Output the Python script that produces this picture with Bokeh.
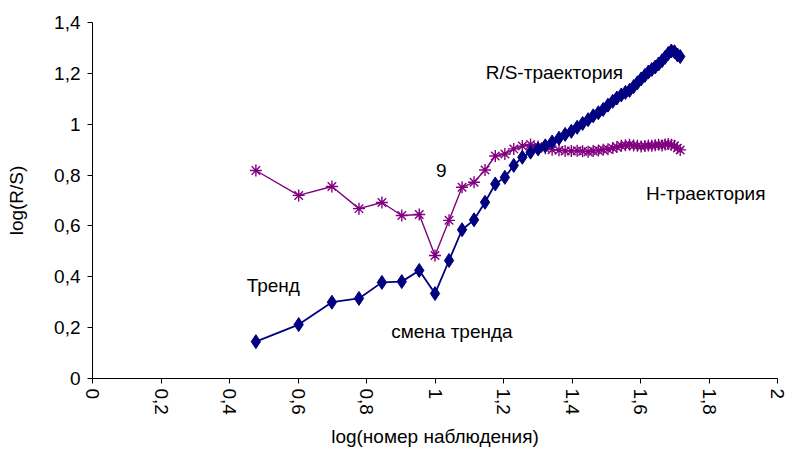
from bokeh.plotting import figure
from bokeh.models import FixedTicker, CustomJSTickFormatter, Range1d, ColumnDataSource
from bokeh.core.properties import value
from bokeh.embed import file_html
from bokeh.resources import INLINE

# log(observation number), n = 3 .. 52
log_n = [0.477, 0.602, 0.699, 0.778, 0.845, 0.903, 0.954, 1.000, 1.041, 1.079,
         1.114, 1.146, 1.176, 1.204, 1.230, 1.255, 1.279, 1.301, 1.322, 1.342,
         1.362, 1.380, 1.398, 1.415, 1.431, 1.447, 1.462, 1.477, 1.491, 1.505,
         1.519, 1.531, 1.544, 1.556, 1.568, 1.580, 1.591, 1.602, 1.613, 1.623,
         1.633, 1.643, 1.653, 1.663, 1.672, 1.681, 1.690, 1.699, 1.708, 1.716]

# R/S trajectory: log(R/S)
log_rs = [0.145, 0.212, 0.300, 0.315, 0.378, 0.381, 0.425, 0.334, 0.464, 0.585,
          0.624, 0.693, 0.765, 0.791, 0.838, 0.870, 0.890, 0.903, 0.915, 0.930,
          0.945, 0.960, 0.972, 0.988, 1.003, 1.018, 1.033, 1.045, 1.058, 1.075,
          1.090, 1.103, 1.115, 1.125, 1.133, 1.148, 1.163, 1.178, 1.192, 1.205,
          1.215, 1.225, 1.237, 1.250, 1.263, 1.278, 1.288, 1.285, 1.272, 1.266]

# H trajectory
h_traj = [0.818, 0.720, 0.755, 0.668, 0.692, 0.641, 0.645, 0.484, 0.622, 0.752,
          0.772, 0.820, 0.875, 0.883, 0.903, 0.914, 0.920, 0.912, 0.905, 0.900,
          0.898, 0.895, 0.895, 0.896, 0.894, 0.892, 0.895, 0.897, 0.900, 0.902,
          0.906, 0.910, 0.915, 0.917, 0.919, 0.916, 0.915, 0.912, 0.914, 0.916,
          0.915, 0.917, 0.919, 0.916, 0.920, 0.922, 0.919, 0.915, 0.906, 0.899]

x_ticks = [0, 0.2, 0.4, 0.6, 0.8, 1.0, 1.2, 1.4, 1.6, 1.8, 2.0]
y_ticks = [0, 0.2, 0.4, 0.6, 0.8, 1.0, 1.2, 1.4]

labels_text = ["Тренд", "смена тренда", "9", "R/S-траектория", "Н-траектория"]
labels_x = [0.45, 0.872, 1.003, 1.148, 1.616]
labels_y = [0.366, 0.185, 0.818, 1.203, 0.727]

FONT = "Liberation Sans"
RS_COLOR = "#000080"
H_COLOR = "#800080"

p = figure(width=787, height=452, output_backend="svg", toolbar_location=None,
           x_range=Range1d(0, 2), y_range=Range1d(0, 1.4),
           min_border_left=92, min_border_right=10, min_border_top=22, min_border_bottom=74)
p.outline_line_color = None
p.xgrid.visible = False
p.ygrid.visible = False
p.background_fill_color = "white"

src = ColumnDataSource(dict(x=log_n, rs=log_rs, h=h_traj))

p.line("x", "h", source=src, line_color=H_COLOR, line_width=1.4)
p.scatter("x", "h", source=src, marker="asterisk", size=12, line_color=H_COLOR, line_width=1.4)

p.line("x", "rs", source=src, line_color=RS_COLOR, line_width=1.8)
p.scatter("x", "rs", source=src, marker="diamond", size=14, fill_color=RS_COLOR, line_color=RS_COLOR)

lsrc = ColumnDataSource(dict(x=labels_x, y=labels_y, t=labels_text))
p.text("x", "y", text="t", source=lsrc, text_font=value(FONT), text_font_size="19px",
       text_color="black", text_align="left", text_baseline="middle")

fmt = CustomJSTickFormatter(code="var s = (Math.round(tick*10)/10).toString(); return s.replace('.', ',');")

for ax, ticks in ((p.xaxis[0], x_ticks), (p.yaxis[0], y_ticks)):
    ax.ticker = FixedTicker(ticks=ticks)
    ax.formatter = fmt
    ax.minor_tick_line_color = None
    ax.major_tick_in = 0
    ax.major_tick_out = 5
    ax.axis_line_color = "black"
    ax.major_tick_line_color = "black"
    ax.major_label_text_font = FONT
    ax.major_label_text_font_size = "19px"
    ax.major_label_text_color = "black"
    ax.axis_label_text_font = FONT
    ax.axis_label_text_font_size = "19px"
    ax.axis_label_text_font_style = "normal"
    ax.axis_label_text_color = "black"

p.xaxis[0].axis_label = "log(номер наблюдения)"
p.xaxis[0].major_label_orientation = "vertical"
p.xaxis[0].major_label_standoff = 5
p.xaxis[0].axis_label_standoff = 8
p.yaxis[0].axis_label = "log(R/S)"
p.yaxis[0].major_label_standoff = 7
p.yaxis[0].axis_label_standoff = 24

open("out.html", "w").write(file_html(p, INLINE))
